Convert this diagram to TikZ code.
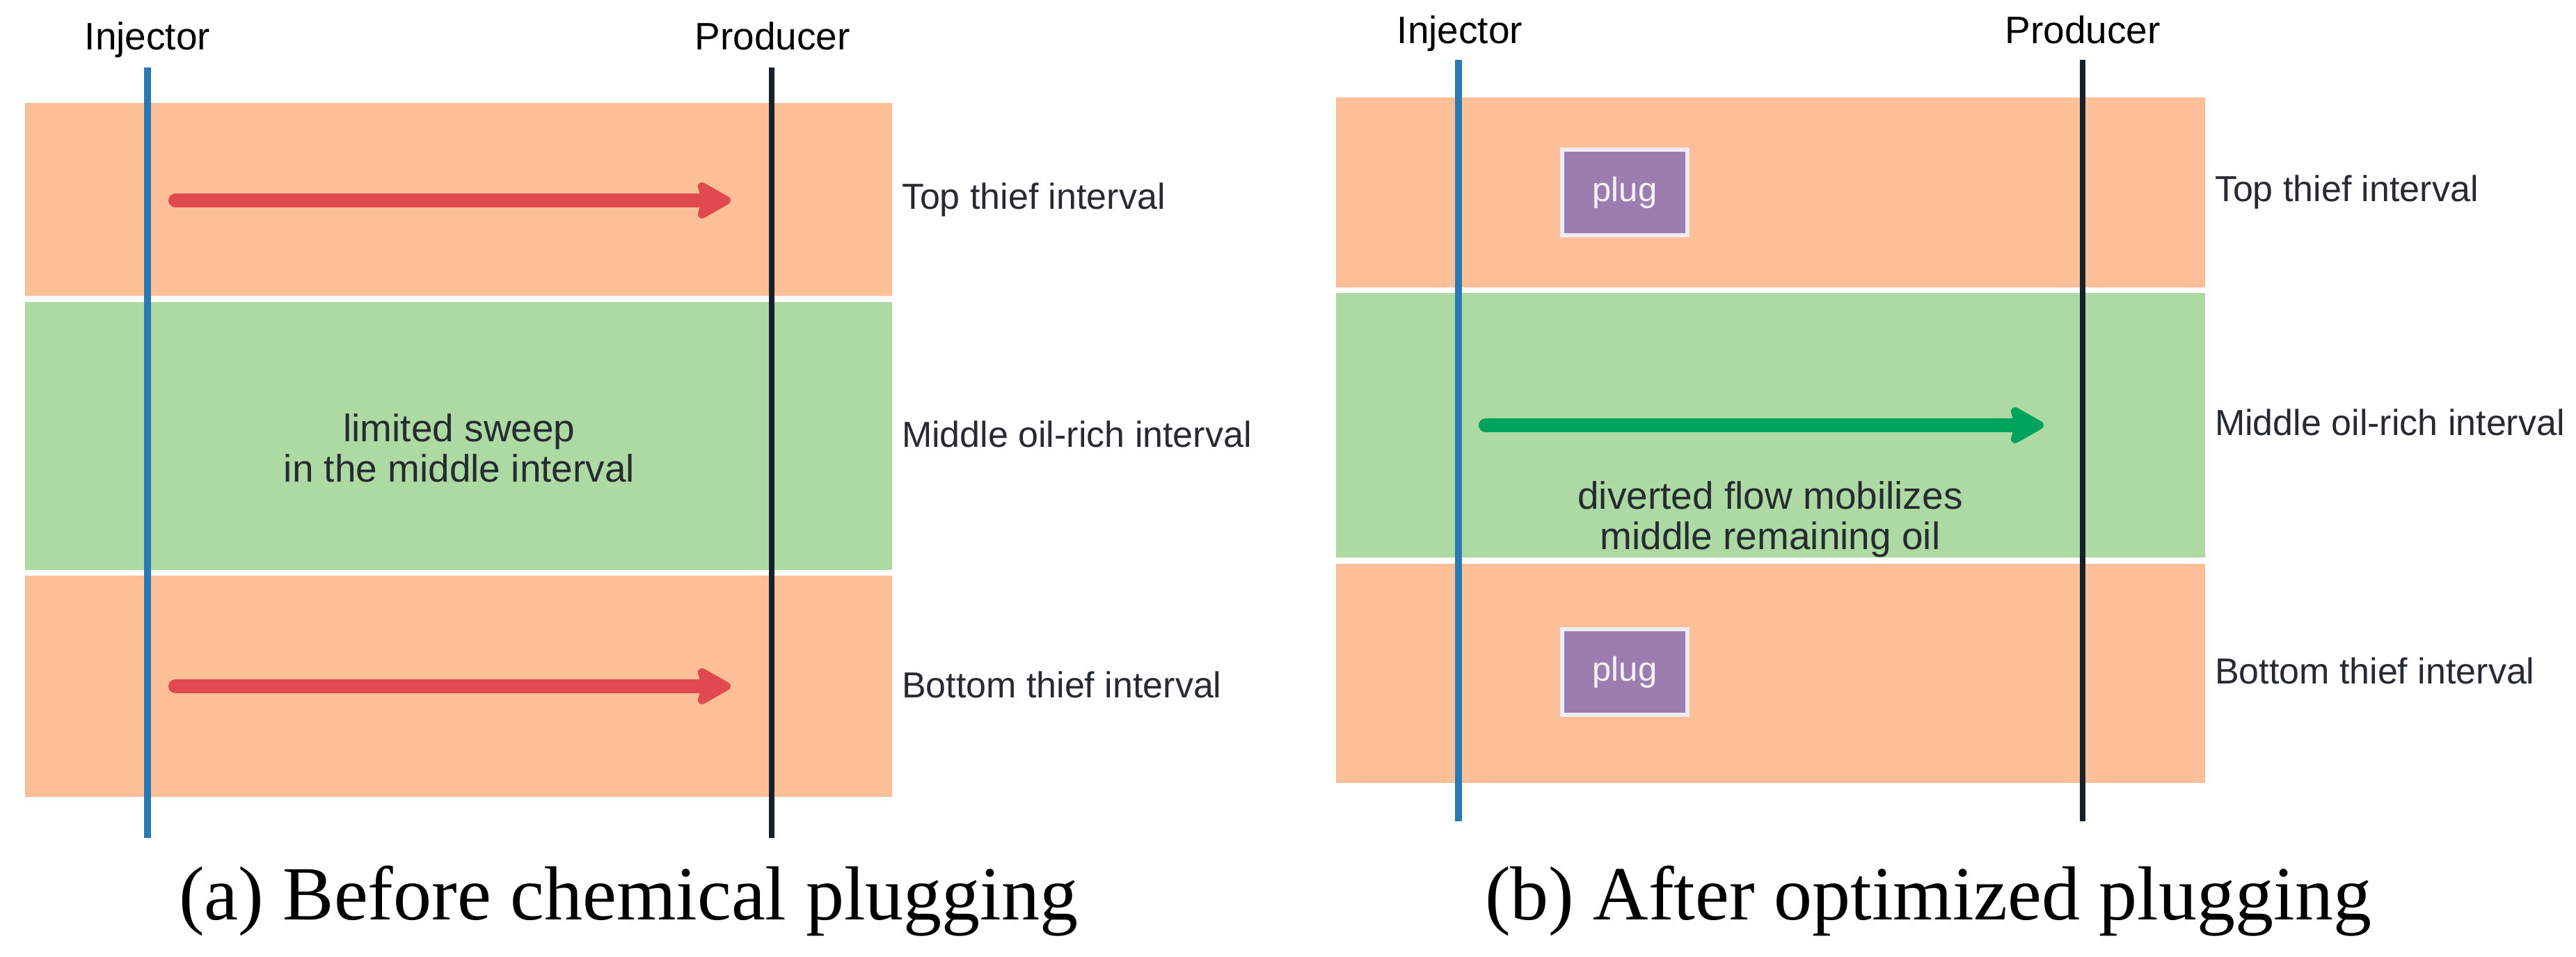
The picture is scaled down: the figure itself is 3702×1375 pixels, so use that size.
\documentclass[tikz,border=0pt]{standalone}
\usepackage{fontspec}
\setmainfont{Liberation Sans}
\newfontfamily\capfont{Liberation Serif}
\usetikzlibrary{arrows.meta}
\definecolor{thief}{HTML}{FDBF98}
\definecolor{oil}{HTML}{ADDAA2}
\definecolor{injc}{HTML}{2A78B4}
\definecolor{prodc}{HTML}{17212B}
\definecolor{redarr}{HTML}{E04A4F}
\definecolor{grnarr}{HTML}{00A35C}
\definecolor{plugc}{HTML}{9B7DB0}
\definecolor{txt}{HTML}{262B31}
\begin{document}
\begin{tikzpicture}[x=0.1pt,y=-0.1pt,
  band/.style={fill=#1, draw=none},
  wellinj/.style={draw=injc, line width=1pt},
  wellprod/.style={draw=prodc, line width=0.8pt},
  welllab/.style={font=\fontsize{5.5}{6.6}\selectfont, text=black, anchor=base, inner sep=0},
  intlab/.style={font=\fontsize{5.2}{6.2}\selectfont, text=txt, anchor=west, inner sep=0},
  midtxt/.style={font=\fontsize{5.5}{5.8}\selectfont, text=txt, align=center, inner sep=0},
  flow/.style={draw=#1, line width=2pt, line cap=round, -{Stealth[length=5.6pt,width=6.2pt,inset=0.8pt,round]}},
  plugbox/.style={fill=plugc, draw=white!85!plugc, line width=0.6pt, minimum width=18pt, minimum height=12.3pt, inner sep=0, text=white!90!plugc, font=\fontsize{4.9}{5.5}\selectfont},
  capt/.style={font=\capfont\fontsize{11}{13}\selectfont, text=black, anchor=base, inner sep=0}
]
\useasboundingbox (0,0) rectangle (3702,1375);
% ---------- panel (a) ----------
\fill[band=thief] (36,148) rectangle (1282,425);
\fill[band=oil]   (36,434) rectangle (1282,819);
\fill[band=thief] (36,827) rectangle (1282,1145);
\coordinate (ia1) at (212,97);  \coordinate (ia2) at (212,1204);
\coordinate (pa1) at (1109,97); \coordinate (pa2) at (1109,1204);
\draw[wellinj] (ia1) -- (ia2);
\draw[wellprod] (pa1) -- (pa2);
\node[welllab] (injA) at (212,72) {Injector};
\node[welllab] (prodA) at (1110,72) {Producer};
\coordinate (a1s) at (252,288); \coordinate (a1e) at (1050,288);
\coordinate (a2s) at (252,986); \coordinate (a2e) at (1050,986);
\draw[flow=redarr] (a1s) -- (a1e);
\draw[flow=redarr] (a2s) -- (a2e);
\node[midtxt] (sweep) at (660,644) {limited sweep\\in the middle interval};
\node[intlab] (topA) at (1294,287) {Top thief interval};
\node[intlab] (midA) at (1294,624) {Middle oil-rich interval};
\node[intlab] (botA) at (1294,984) {Bottom thief interval};
\node[capt] (capA) at (903,1322) {(a) Before chemical plugging};
% ---------- panel (b) ----------
\fill[band=thief] (1920,140) rectangle (3169,413);
\fill[band=oil]   (1920,421) rectangle (3169,801);
\fill[band=thief] (1920,810) rectangle (3169,1125);
\coordinate (ib1) at (2096,86);  \coordinate (ib2) at (2096,1180);
\coordinate (pb1) at (2993,86);  \coordinate (pb2) at (2993,1180);
\draw[wellinj] (ib1) -- (ib2);
\draw[wellprod] (pb1) -- (pb2);
\node[welllab] (injB) at (2098,63) {Injector};
\node[welllab] (prodB) at (2993,63) {Producer};
\node[plugbox] (plug1) at (2335,277) {plug};
\node[plugbox] (plug2) at (2335,966) {plug};
\coordinate (gs) at (2135,611); \coordinate (ge) at (2937,611);
\draw[flow=grnarr] (gs) -- (ge);
\node[midtxt] (divert) at (2544,746) {diverted flow mobilizes\\middle remaining oil};
\node[intlab] (topB) at (3181,276) {Top thief interval};
\node[intlab] (midB) at (3181,607) {Middle oil-rich interval};
\node[intlab] (botB) at (3181,964) {Bottom thief interval};
\node[capt] (capB) at (2771,1322) {(b) After optimized plugging};
\end{tikzpicture}
\end{document}
